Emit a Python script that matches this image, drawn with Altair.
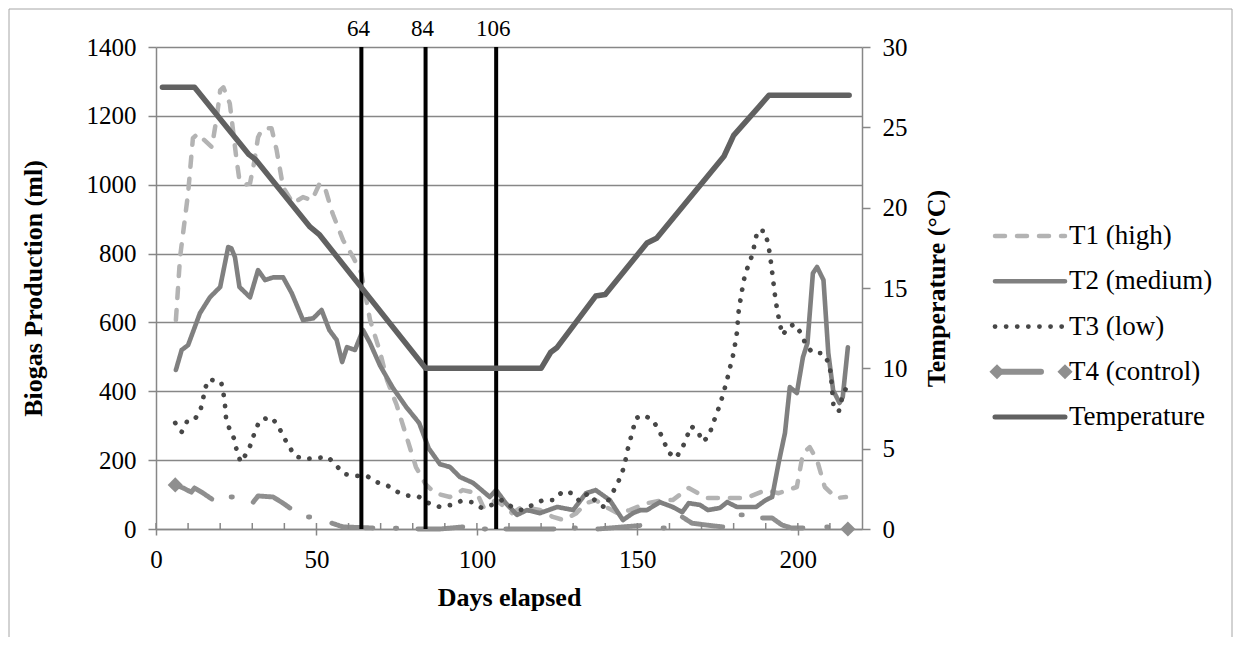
import altair as alt
import pandas as pd

# ---------------- data ----------------
series_names = ["T1 (high)", "T2 (medium)", "T3 (low)", "T4 (control)", "Temperature"]
series_colors = ["#b3b3b3", "#808080", "#474747", "#8f8f8f", "#616161"]

t1_day = [6.2, 7.5, 10, 11.5, 13, 15, 17.4, 19, 20, 21, 23, 25, 26, 28, 29.3, 30.5, 31.8, 33,
          34.5, 36, 37.6, 39.6, 42.7, 45.8, 48.6, 51, 52.6, 55, 58.3, 61.4, 64, 66.7, 69.8, 72,
          75, 78, 81, 84, 87, 91.6, 95.6, 100, 102, 106, 111, 114, 119.6, 123.7, 127, 131, 134,
          137, 141, 144, 147.6, 153, 158, 161, 166, 171.6, 175.7, 180, 184, 190, 194, 199.7,
          201.6, 203.7, 206, 208.4, 212, 215]
t1_ml = [607, 790, 975, 1135, 1148, 1130, 1109, 1200, 1274, 1283, 1236, 1080, 1013, 1000, 1004,
         1060, 1138, 1160, 1164, 1164, 1100, 993, 946, 964, 955, 1004, 993, 917, 839, 790, 743,
         607, 515, 432, 360, 270, 180, 130, 104, 93, 113, 104, 64, 84, 46, 64, 55, 35, 26, 46,
         75, 84, 60, 45, 55, 75, 84, 84, 119, 90, 90, 90, 90, 113, 104, 122, 220, 238, 200, 122,
         90, 93]

t2_day = [6.2, 8, 10, 13.7, 16.8, 20, 22.5, 23.5, 24.6, 26, 29.3, 31.8, 34, 36.5, 39.6, 42.3,
          45.8, 49, 51.6, 54, 56.3, 58, 59.5, 62, 64.5, 66.7, 69.8, 73.8, 78, 82, 85, 88.5, 91.6,
          94.7, 98.8, 104, 106, 109, 112.5, 115.6, 119.6, 125, 130, 134, 137, 141.4, 145.5,
          148.6, 151, 153, 157, 161, 164, 166, 169.5, 172, 175.7, 178, 181, 187, 190, 192, 194,
          196, 197.5, 199.7, 201.6, 203, 204.7, 206, 208, 209.5, 211, 213, 214, 215.6]
t2_ml = [462, 520, 534, 627, 673, 703, 819, 815, 790, 703, 673, 752, 723, 731, 731, 685, 607,
         612, 636, 578, 549, 485, 528, 520, 578, 540, 475, 410, 354, 308, 234, 188, 180, 151,
         134, 93, 113, 75, 41, 55, 46, 64, 55, 104, 113, 84, 26, 46, 55, 55, 78, 64, 49, 75, 70,
         55, 61, 78, 64, 64, 84, 93, 191, 279, 412, 395, 499, 540, 743, 761, 723, 511, 403, 366,
         383, 528]

t3_day = [6, 8, 9.6, 11.6, 13.7, 14.6, 15.3, 16.5, 18.7, 20.3, 21, 21.5, 21.8, 22.8, 24.4, 25.2,
          26.4, 28.3, 29.9, 30.8, 32.4, 35.8, 38, 39.6, 41.4, 43.3, 46.4, 50, 53.6, 56, 58.6,
          62.3, 65.7, 68.8, 72.3, 75.4, 78.5, 82, 85, 88.5, 92, 95, 98.4, 101.5, 104.6, 107.8,
          110.9, 114, 117.4, 120.6, 124, 126.8, 129.6, 132, 134.6, 137, 140, 141.4, 143.3, 145,
          146.1, 146.7, 147.6, 148.6, 149.5, 152, 154.8, 156.7, 158.3, 159.5, 162, 164, 165.4,
          166.7, 168.8, 170.4, 172.3, 173.5, 174.8, 176, 177, 178, 178.8, 179.7, 180.4, 181,
          181.6, 182.2, 182.8, 183.5, 184.7, 186, 186.6, 187.5, 189.7, 190.6, 191.3, 192.2,
          193.1, 194.4, 195.3, 196.9, 199, 201.2, 202.5, 204.7, 207.8, 209.7, 210.3, 210.6,
          211.2, 212.8, 213.7, 215]
t3_ml = [308, 282, 311, 313, 340, 374, 409, 435, 430, 427, 395, 360, 325, 293, 261, 226, 194,
         221, 253, 284, 316, 325, 302, 270, 241, 212, 203, 206, 209, 186, 160, 154, 154, 136,
         125, 107, 97, 93, 75, 64, 70, 81, 78, 61, 70, 84, 64, 55, 70, 84, 84, 110, 104, 81, 104,
         81, 61, 93, 122, 157, 189, 221, 253, 287, 322, 331, 316, 287, 255, 224, 206, 235, 267,
         299, 284, 253, 270, 305, 337, 369, 401, 435, 467, 499, 534, 569, 636, 670, 703, 737,
         769, 801, 833, 868, 865, 833, 798, 731, 662, 595, 563, 586, 595, 566, 534, 511, 511,
         482, 450, 415, 348, 343, 377, 409]

# T4 has gaps: each run of points has its own segment number
t4_day = [6, 8.5, 11, 12, 14.7, 17.4, 23.4, 23.8, 30.3, 31.8, 36.5, 39.6, 41.7, 47.5, 47.9,
          54.8, 58.3, 67.6, 74.6, 75, 81.6, 88.5, 95.6, 102.3, 102.7, 109, 124, 130.3, 130.7,
          137.7, 150.8, 158, 158.4, 164, 167, 171, 176.6, 182.3, 182.7, 189, 192, 195, 198,
          201.6, 209, 209.4, 214.8, 215.6]
t4_ml = [128, 119, 107, 119, 104, 87, 93, 93, 78, 96, 93, 75, 61, 35, 35, 17, 6, 3, 2, 2, 0, 0,
         6, 0, 0, 0, 0, 3, 3, 0, 10, 3, 3, 35, 17, 12, 6, 41, 41, 32, 32, 12, 3, 3, 6, 6, 2, 0]
t4_seg = [0, 0, 0, 0, 0, 0, 1, 1, 2, 2, 2, 2, 2, 3, 3, 4, 4, 4, 5, 5, 6, 6, 6, 7, 7, 8, 8, 9, 9,
          10, 10, 11, 11, 12, 12, 12, 12, 13, 13, 14, 14, 14, 14, 14, 15, 15, 16, 16]

temp_day = [2, 12, 29, 31, 48, 51, 84, 120, 123, 125, 137, 140, 153, 156, 177, 180, 184, 188,
            191, 216]
temp_c = [27.5, 27.5, 23.3, 23.0, 18.8, 18.3, 10, 10, 11.0, 11.3, 14.5, 14.6, 17.8, 18.1, 23.2,
          24.5, 25.4, 26.3, 27.0, 27.0]

marker_days = [64, 84, 106]
marker_labels = ["64", "84", "106"]

x_tick_values = [0, 50, 100, 150, 200]
x_minor_ticks = [0, 10, 20, 30, 40, 50, 60, 70, 80, 90, 100, 110, 120, 130, 140, 150, 160, 170,
                 180, 190, 200, 210]
y_left_ticks = [0, 200, 400, 600, 800, 1000, 1200, 1400]
y_right_ticks = [0, 5, 10, 15, 20, 25, 30]

# ---------------- tables ----------------
rows = []
for name, ds, vs in [(series_names[0], t1_day, t1_ml), (series_names[1], t2_day, t2_ml),
                     (series_names[2], t3_day, t3_ml)]:
    for d, v in zip(ds, vs):
        rows.append({"day": d, "ml": v, "series": name, "seg": name})
for d, v, s in zip(t4_day, t4_ml, t4_seg):
    rows.append({"day": d, "ml": v, "series": series_names[3], "seg": f"T4-{s}"})
bio = pd.DataFrame(rows)
t4_ends = pd.DataFrame({"day": [t4_day[0], t4_day[-1]], "ml": [t4_ml[0], t4_ml[-1]]})
temp_df = pd.DataFrame({"day": temp_day, "temp": temp_c, "series": "Temperature"})
marks_df = pd.DataFrame({"day": marker_days, "label": marker_labels})
minor_df = pd.DataFrame({"day": x_minor_ticks})
legend_df = pd.DataFrame({"name": series_names, "idx": list(range(len(series_names)))})
frame_df = pd.DataFrame({"frame": [0]})

PLOT_W, PLOT_H = 706, 482
PAD_L, PAD_T = 148, 39
FONT = "Liberation Serif"
AXIS_GREY = "#878787"
FRAME_GREY = "#a6a6a6"

color_scale = alt.Scale(domain=series_names, range=series_colors)
dash_scale = alt.Scale(domain=series_names, range=[[10, 12], [1, 0], [0.1, 11], [1, 0], [1, 0]])
width_scale = alt.Scale(domain=series_names, range=[4.5, 5, 4.5, 6, 5.5])

x_enc = alt.X("day:Q", scale=alt.Scale(domain=[0, 220], nice=False),
              axis=alt.Axis(values=x_tick_values, title="Days elapsed", grid=False, tickSize=6,
                            labelPadding=12, titlePadding=12, labelFlush=False,
                            labelOverlap=False, format="d"))
y_bio = alt.Y("ml:Q", scale=alt.Scale(domain=[0, 1400], nice=False),
              axis=alt.Axis(values=y_left_ticks, title="Biogas Production (ml)", grid=True,
                            tickSize=8, labelPadding=12, titlePadding=40, labelFlush=False,
                            format="d"))

lines = alt.Chart(bio).mark_line(strokeCap="round", strokeJoin="round").encode(
    x=x_enc, y=y_bio,
    color=alt.Color("series:N", scale=color_scale, legend=None),
    strokeDash=alt.StrokeDash("series:N", scale=dash_scale, legend=None),
    strokeWidth=alt.StrokeWidth("series:N", scale=width_scale, legend=None),
    detail="seg:N",
)
t4_pts = alt.Chart(t4_ends).mark_point(shape="diamond", filled=True, size=230, opacity=1,
                                       color=series_colors[3]).encode(x=x_enc, y=y_bio)
minor = alt.Chart(minor_df).mark_rule(color=AXIS_GREY, strokeWidth=1.5).encode(
    x=x_enc, y=alt.value(PLOT_H - 6), y2=alt.value(PLOT_H))
vrules = alt.Chart(marks_df).mark_rule(color="black", strokeWidth=4).encode(x=x_enc)
vlabels = alt.Chart(marks_df).mark_text(font=FONT, fontSize=23, baseline="alphabetic",
                                        align="center", dx=-3, color="black").encode(
    x=x_enc, y=alt.value(-11), text="label:N")

bio_layer = alt.layer(lines, t4_pts, minor, vrules, vlabels)

temp_line = alt.Chart(temp_df).mark_line(strokeCap="round", strokeJoin="round",
                                         color=series_colors[4], strokeWidth=5.5).encode(
    x=x_enc,
    y=alt.Y("temp:Q", scale=alt.Scale(domain=[0, 30], nice=False),
            axis=alt.Axis(orient="right", values=y_right_ticks, title="Temperature (°C)",
                          titleAngle=270, grid=False, tickSize=8, labelPadding=12,
                          titlePadding=42, labelFlush=False, format="d")),
)

# ---------------- legend ----------------
LX0, LX1, LTX = 839, 909, 913
y_leg = alt.Y("idx:Q", scale=alt.Scale(domain=[0, 4], range=[189, 370]), axis=None)
leg_base = alt.Chart(legend_df)
leg_lines = leg_base.transform_filter(alt.datum.name != series_names[3]).mark_rule(
    strokeCap="round").encode(
    x=alt.value(LX0), x2=alt.value(LX1), y=y_leg,
    color=alt.Color("name:N", scale=color_scale, legend=None),
    strokeDash=alt.StrokeDash("name:N", scale=dash_scale, legend=None),
    strokeWidth=alt.StrokeWidth("name:N", scale=width_scale, legend=None),
)
leg_t4 = leg_base.transform_filter(alt.datum.name == series_names[3])
leg_t4_line = leg_t4.mark_rule(strokeCap="round", strokeWidth=6, color=series_colors[3]).encode(
    x=alt.value(LX0 + 2), x2=alt.value(LX0 + 46), y=y_leg)
leg_t4_d1 = leg_t4.mark_point(shape="diamond", filled=True, size=230, opacity=1,
                              color=series_colors[3]).encode(x=alt.value(LX0 + 2), y=y_leg)
leg_t4_d2 = leg_t4.mark_point(shape="diamond", filled=True, size=230, opacity=1,
                              color=series_colors[3]).encode(x=alt.value(LX1), y=y_leg)
leg_text = leg_base.mark_text(align="left", baseline="middle", font=FONT, fontSize=27,
                              color="black").encode(x=alt.value(LTX), y=y_leg, text="name:N")

# thin chart-area frame (decoration)
frame_base = alt.Chart(frame_df).mark_rule(color=FRAME_GREY, strokeWidth=1)
frame_top = frame_base.encode(x=alt.value(-PAD_L + 1), x2=alt.value(1076), y=alt.value(-PAD_T + 1))
frame_left = frame_base.encode(x=alt.value(-PAD_L + 1), y=alt.value(-PAD_T + 1),
                               y2=alt.value(629 - PAD_T))
frame_right = frame_base.encode(x=alt.value(1076), y=alt.value(-PAD_T + 1),
                                y2=alt.value(629 - PAD_T))

legend_layer = alt.layer(leg_lines, leg_t4_line, leg_t4_d1, leg_t4_d2, leg_text,
                         frame_top, frame_left, frame_right)

chart = alt.layer(bio_layer, temp_line, legend_layer).resolve_scale(y="independent").properties(
    width=PLOT_W, height=PLOT_H,
    padding={"left": PAD_L, "top": PAD_T, "right": 1225 - PAD_L - PLOT_W,
             "bottom": 629 - PAD_T - PLOT_H},
    autosize=alt.AutoSizeParams(type="none"),
    background="white",
).configure(font=FONT).configure_text(font=FONT).configure_axis(
    labelFont=FONT, titleFont=FONT, labelFontSize=25, titleFontSize=26, titleFontWeight="bold",
    labelColor="black", titleColor="black", domainColor=AXIS_GREY, tickColor=AXIS_GREY,
    gridColor=AXIS_GREY, domainWidth=1.5, tickWidth=1.5, gridWidth=1.5,
).configure_view(stroke=None)

chart.save("out.html", embed_options={"renderer": "svg", "actions": False})
